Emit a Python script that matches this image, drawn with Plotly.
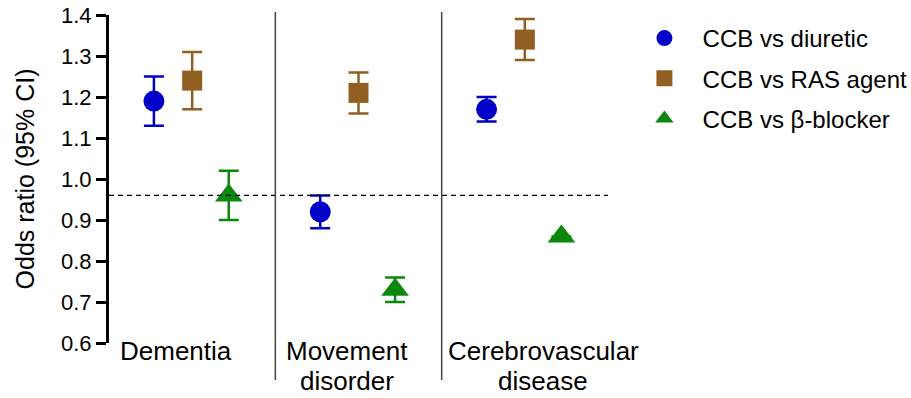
import plotly.graph_objects as go

categories = ["Dementia", "Movement<br>disorder", "Cerebrovascular<br>disease"]
series_names = ["CCB vs diuretic", "CCB vs RAS agent", "CCB vs β-blocker"]
odds = [
    [1.19, 0.92, 1.17],
    [1.24, 1.21, 1.34],
    [0.96, 0.73, 0.86],
]
lower = [
    [1.13, 0.88, 1.14],
    [1.17, 1.16, 1.29],
    [0.90, 0.70, 0.86],
]
upper = [
    [1.25, 0.96, 1.20],
    [1.31, 1.26, 1.39],
    [1.02, 0.76, 0.86],
]
reference_line = 0.96
y_ticks = [0.6, 0.7, 0.8, 0.9, 1.0, 1.1, 1.2, 1.3, 1.4]

colors = ["#0000C8", "#925F22", "#0B870B"]
symbols = ["circle", "square", "triangle-up"]
marker_sizes = [21, 20, 24]
offsets = [-0.23, 0.0, 0.22]
label_x = [-0.10, 0.93, 2.11]

FONT = "Arial, Liberation Sans, sans-serif"
PAD = "\u00a0\u00a0\u2009"

fig = go.Figure()
for s in range(3):
    xs = [g + offsets[s] for g in range(len(categories))]
    fig.add_trace(go.Scatter(
        x=xs, y=odds[s], mode="markers", name=PAD + series_names[s],
        legendgroup=f"g{s}",
        marker=dict(symbol=symbols[s], size=marker_sizes[s], color=colors[s]),
        error_y=dict(type="data", symmetric=False,
                     array=[u - o for u, o in zip(upper[s], odds[s])],
                     arrayminus=[o - l for o, l in zip(odds[s], lower[s])],
                     color=colors[s], thickness=2.5, width=10),
    ))

# reference dashed line
fig.add_shape(type="line", xref="x", yref="y", x0=-0.5, x1=2.5,
              y0=reference_line, y1=reference_line,
              line=dict(color="black", width=1.2, dash="5px,4px"))
# group separators
for sx in [0.5, 1.5]:
    fig.add_shape(type="line", xref="x", yref="paper", x0=sx, x1=sx,
                  y0=-0.113, y1=1.009, line=dict(color="#444444", width=1.5))

line_y = [-0.0244, -0.1159]
for i, c in enumerate(categories):
    for j, part in enumerate(c.split("<br>")):
        fig.add_annotation(x=label_x[i], y=line_y[j], xref="x", yref="paper",
                           text=part, showarrow=False, yanchor="middle",
                           font=dict(family=FONT, size=26, color="black"))

fig.update_layout(
    width=911, height=398,
    margin=dict(l=109, r=303, t=15, b=55, autoexpand=False),
    plot_bgcolor="white", paper_bgcolor="white",
    font=dict(family=FONT, color="black"),
    showlegend=True,
    legend=dict(x=1.073, y=0.997, xanchor="left", yanchor="top",
                font=dict(family=FONT, size=24, color="black"),
                traceorder="grouped", tracegroupgap=6,
                bgcolor="rgba(0,0,0,0)"),
)
fig.update_xaxes(range=[-0.5, 2.5], showgrid=False, zeroline=False,
                 showticklabels=False, showline=False, ticks="",
                 automargin=False)
fig.update_yaxes(range=[0.6, 1.4], tickvals=y_ticks,
                 ticktext=[f"{v:.1f}" for v in y_ticks],
                 showgrid=False, zeroline=False, showline=True,
                 linecolor="black", linewidth=3, ticks="outside",
                 ticklen=10, tickwidth=3, tickcolor="black", automargin=False,
                 ticklabeloverflow="allow",
                 tickfont=dict(family=FONT, size=22, color="black"),
                 title=dict(text="Odds ratio (95% CI)", standoff=20,
                            font=dict(family=FONT, size=25, color="black")))

fig.write_html("out.html",
               config={"displayModeBar": False},
               post_script="document.body.style.margin='0';")
